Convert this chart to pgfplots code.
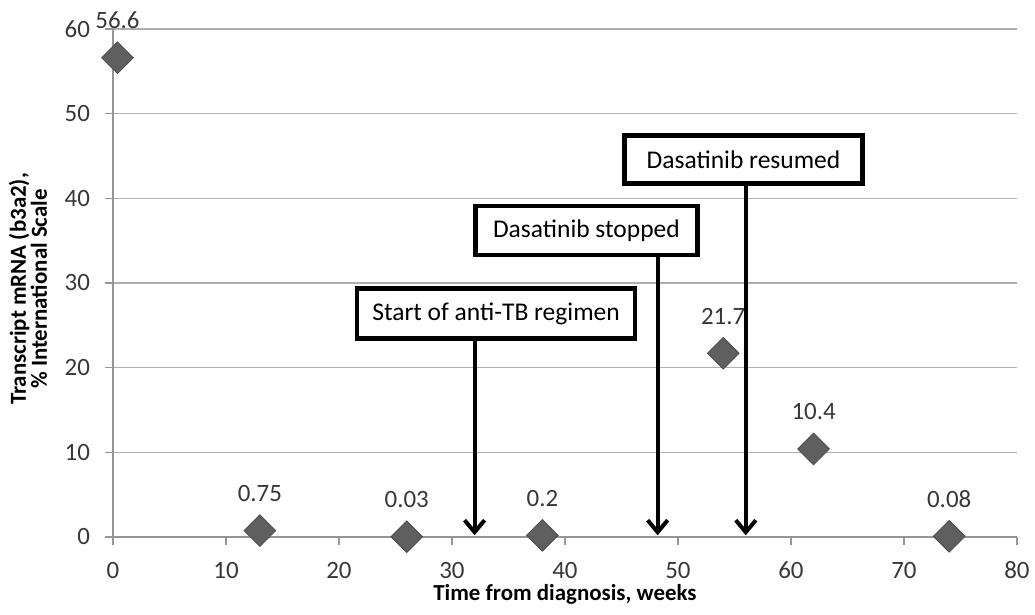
\documentclass[border=0pt]{standalone}
\usepackage{pgfplots}
\pgfplotsset{compat=1.18}
\usepackage{pgfplotstable}
\usepackage{fontspec}
\setmainfont{Carlito}
\usetikzlibrary{arrows.meta}
\definecolor{gridc}{RGB}{175,175,175}
\definecolor{axc}{RGB}{150,150,150}
\definecolor{mk}{RGB}{95,95,95}
\definecolor{txt}{RGB}{55,55,55}

\pgfplotstableread{
x y lab
0.4 56.6 56.6
13 0.75 0.75
26 0.03 0.03
38 0.2 0.2
54 21.7 21.7
62 10.4 10.4
74 0.08 0.08
}\datatab

\begin{document}
\begin{tikzpicture}
\begin{axis}[
  scale only axis, width=452bp, height=254bp,
  xmin=0, xmax=80, ymin=0, ymax=60,
  xtick={0,10,...,80}, ytick={0,10,...,60},
  axis x line*=bottom, axis y line*=left,
  axis line style={axc, line width=0.6bp, -},
  ymajorgrids, grid style={gridc, line width=0.6bp},
  tick align=outside, major tick length=4bp,
  tick style={axc, line width=0.6bp},
  ticklabel style={font=\fontsize{12.5}{14}\selectfont, text=txt},
  xticklabel style={anchor=base, yshift=-16.5bp},
  yticklabel style={anchor=east, xshift=-4bp},
  /pgf/number format/assume math mode=true,
  xlabel={Time from diagnosis, weeks},
  xlabel style={at={(axis description cs:0.5,0)}, anchor=base, yshift=-31.5bp,
     font=\bfseries\fontsize{11.5}{13}\selectfont, text=black},
  ylabel={Transcript mRNA (b3a2),\\\% International Scale},
  ylabel style={at={(axis description cs:0,0.5)}, anchor=center, yshift=42.5bp, xshift=-3bp,
     align=center, font=\bfseries\fontsize{11.5}{10.5}\selectfont, text=black},
  clip=false,
  nodes near coords, point meta=explicit symbolic,
  every node near coord/.append style={anchor=base, inner sep=0pt, yshift=14.5bp, font=\fontsize{12.5}{14}\selectfont, text=txt},
]
\addplot[only marks, mark=square*, mark size=5.6bp,
  mark options={rotate=45, fill=mk, draw=mk!80!black, line width=0.4bp}]
  table[x=x, y=y, meta=lab]{\datatab};
\coordinate (O) at (axis cs:0,0);

\tikzset{box/.style={draw, line width=2.2bp, fill=white, inner sep=0pt,
   font=\fontsize{12.8}{14}\selectfont, text=black},
   arr/.style={line width=2bp, -{Straight Barb[length=6bp,width=10bp,line width=2bp]}}}
\node[box, minimum width=139bp, minimum height=25bp] at (axis cs:33.9,26.4) {Start of anti-TB regimen};
\draw[arr] (axis cs:32,23.3) -- (axis cs:32,0.2);
\node[box, minimum width=111bp, minimum height=24.5bp] at (axis cs:41.9,36.2) {Dasatinib stopped};
\draw[arr] (axis cs:48.2,33.1) -- (axis cs:48.2,0.2);
\node[box, minimum width=119bp, minimum height=24bp] at (axis cs:55.8,44.6) {Dasatinib resumed};
\draw[arr] (axis cs:56,41.6) -- (axis cs:56,0.2);
\end{axis}
\pgfresetboundingbox
\path[use as bounding box] (O) ++(-56.5bp,-39bp) rectangle ++(517.5bp,307.5bp);
\end{tikzpicture}
\end{document}
